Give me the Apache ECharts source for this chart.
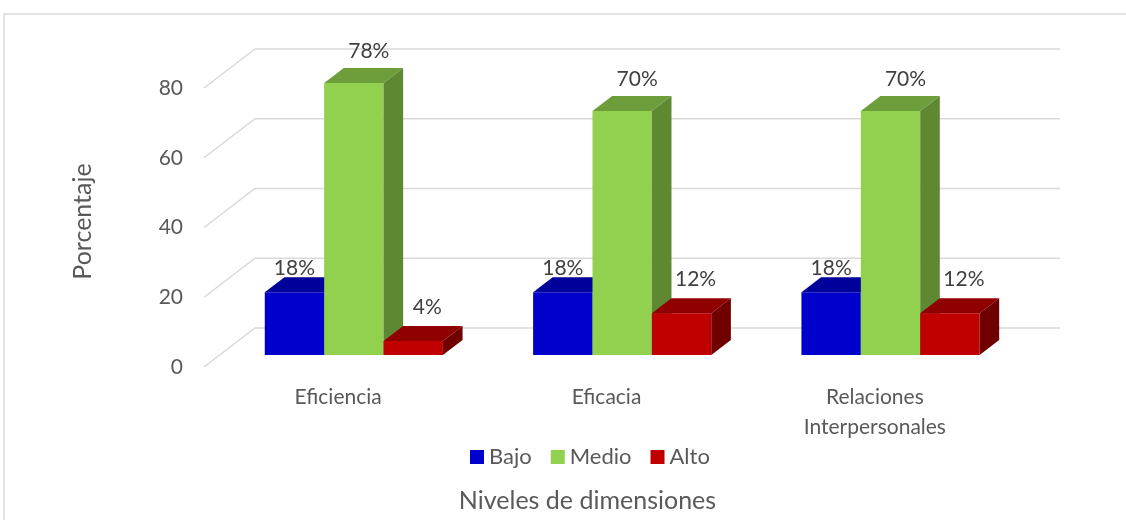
<!DOCTYPE html>
<html><head><meta charset="utf-8">
<script src="https://cdn.jsdelivr.net/npm/echarts@6/dist/echarts.min.js"></script>
<style>html,body{margin:0;padding:0;background:#fff}#chart{width:1126px;height:520px}</style>
</head><body><div id="chart"></div>
<script>
// Data
const categories = ['Eficiencia', 'Eficacia', 'Relaciones\nInterpersonales'];
const seriesNames = ['Bajo', 'Medio', 'Alto'];
const bajo = [18, 18, 18];
const medio = [78, 70, 70];
const alto = [4, 12, 12];
const yTicks = [0, 20, 40, 60, 80];

const FONT = 'Lato, "Open Sans", sans-serif';
// Pseudo-3D box: the depth of the walls in pixels, bars sit in the middle slice
const WALL_DX = 51, WALL_DY = -39;
const GAP_FRAC = 12 / 39, BAR_FRAC = 15 / 39;
const palette = [
  { front: '#0000CC', top: '#00009A', side: '#000080' },
  { front: '#92D050', top: '#6E9E3C', side: '#5E8832' },
  { front: '#C00000', top: '#900000', side: '#700000' }
];
const labelShift = [[0, -24], [15, -32], [14, -34]];

function barRenderer(sIdx) {
  return function (params, api) {
    const cat = api.value(0), val = api.value(1);
    const base = api.coord([cat, 0]);
    const top = api.coord([cat, val]);
    const band = api.size([1, 0])[0];
    const bw = band * 0.2213;
    const groupLeft = base[0] - band / 2 + band * 0.168;
    const ox = WALL_DX * GAP_FRAC, oy = WALL_DY * GAP_FRAC;
    const dx = WALL_DX * BAR_FRAC, dy = WALL_DY * BAR_FRAC;
    const x0 = groupLeft + sIdx * bw + ox, x1 = x0 + bw;
    const yb = base[1] + oy, yt = top[1] + oy;
    const c = palette[sIdx];
    return {
      type: 'group',
      children: [
        { type: 'rect', shape: { x: x0, y: yt, width: bw, height: yb - yt }, style: { fill: c.front } },
        { type: 'polygon', shape: { points: [[x0, yt], [x1, yt], [x1 + dx, yt + dy], [x0 + dx, yt + dy]] }, style: { fill: c.top } },
        { type: 'polygon', shape: { points: [[x1, yt], [x1 + dx, yt + dy], [x1 + dx, yb + dy], [x1, yb]] }, style: { fill: c.side } },
        {
          type: 'text', z2: 10,
          style: {
            text: val + '%', x: (x0 + x1) / 2 + labelShift[sIdx][0], y: yt + labelShift[sIdx][1],
            align: 'center', verticalAlign: 'middle', fill: '#404040', font: '21px ' + FONT
          }
        }
      ]
    };
  };
}

function gridRenderer(params, api) {
  const cs = params.coordSys;
  const y = api.coord([0, api.value(1)])[1];
  const xl = cs.x;
  return {
    type: 'polyline',
    shape: { points: [[xl, y], [xl + WALL_DX, y + WALL_DY], [xl + cs.width + WALL_DX, y + WALL_DY]] },
    style: { stroke: '#D9D9D9', lineWidth: 1.5, fill: null }
  };
}

const values = [bajo, medio, alto];
const chart = echarts.init(document.getElementById('chart'));
chart.setOption({
  animation: false,
  backgroundColor: '#fff',
  textStyle: { fontFamily: FONT },
  graphic: [{
    type: 'rect', silent: true, z: -10,
    shape: { x: 4, y: 14, width: 1140, height: 530 },
    style: { fill: null, stroke: '#D9D9D9', lineWidth: 1.5 }
  }],
  grid: { left: 204, top: 88, width: 805, height: 279 },
  legend: {
    left: 465, top: 441, icon: 'rect', itemWidth: 14, itemHeight: 14, itemGap: 19,
    data: seriesNames,
    textStyle: { fontSize: 22, color: '#595959', fontFamily: FONT }
  },
  xAxis: {
    type: 'category', data: categories,
    axisLine: { show: false }, axisTick: { show: false },
    axisLabel: { fontSize: 21, color: '#595959', margin: 15, lineHeight: 30, fontFamily: FONT },
    name: 'Niveles de dimensiones', nameLocation: 'middle', nameGap: 121,
    nameTextStyle: { fontSize: 25, color: '#595959', fontFamily: FONT, padding: [0, 38, 0, 0] }
  },
  yAxis: {
    type: 'value', min: 0, max: 80, interval: 20,
    axisLine: { show: false }, axisTick: { show: false }, splitLine: { show: false },
    axisLabel: { fontSize: 21, color: '#595959', margin: 21, fontFamily: FONT },
    name: 'Porcentaje', nameLocation: 'middle', nameGap: 109, nameRotate: 90,
    nameTextStyle: { fontSize: 25, color: '#595959', fontFamily: FONT, padding: [0, 0, 0, 12] }
  },
  series: [
    {
      type: 'custom', name: 'grid', silent: true, z: 0,
      renderItem: gridRenderer,
      data: yTicks.map(v => [0, v])
    }
  ].concat(seriesNames.map((name, i) => ({
    type: 'custom', name: name, silent: true, z: 2,
    itemStyle: { color: palette[i].front },
    renderItem: barRenderer(i),
    encode: { x: 0, y: 1 },
    data: values[i].map((v, k) => [k, v])
  })))
});
</script>
</body></html>
